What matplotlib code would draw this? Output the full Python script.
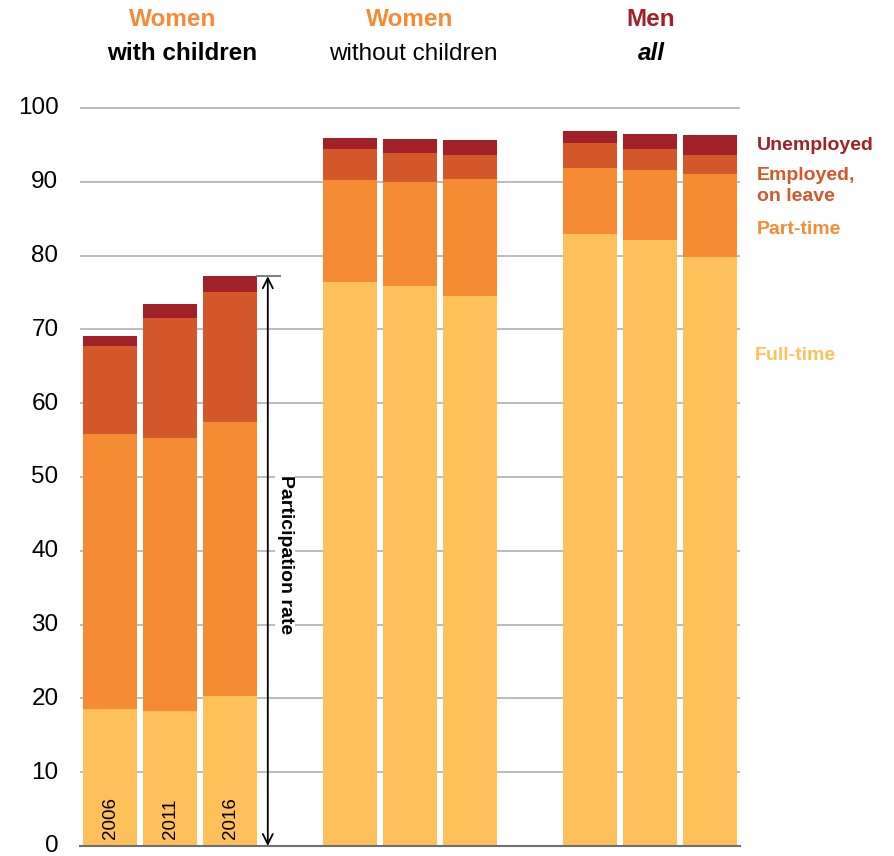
import matplotlib
matplotlib.use("Agg")
import matplotlib.pyplot as plt
import matplotlib.transforms as mtransforms

plt.rcParams['font.family'] = ['Liberation Sans', 'DejaVu Sans']

years = ["2006", "2011", "2016"]
groups = ["with children", "without children", "all"]
full_time = [18.6, 18.3, 20.3, 76.4, 75.9, 74.5, 82.9, 82.1, 79.8]
part_time = [37.2, 37.0, 37.2, 13.9, 14.1, 15.9, 9.0, 9.5, 11.3]
on_leave = [11.9, 16.3, 17.6, 4.1, 3.9, 3.2, 3.4, 2.9, 2.5]
unemployed = [1.4, 1.8, 2.1, 1.6, 1.9, 2.1, 1.6, 2.0, 2.7]
positions = [0, 1, 2, 4, 5, 6, 8, 9, 10]

c_ft = "#FEC05A"
c_pt = "#F58B33"
c_lv = "#D4582A"
c_un = "#A22028"

fig = plt.figure(figsize=(8.94, 8.56), dpi=100)
ax = fig.add_axes([80/894, 10/856, 660/894, (846-100.6)/856])

series = [(full_time, c_ft), (part_time, c_pt), (on_leave, c_lv), (unemployed, c_un)]
bottom = [0.0]*len(positions)
for vals, col in series:
    ax.bar(positions, vals, width=0.9, bottom=bottom, color=col, edgecolor='none', zorder=2)
    bottom = [b + v for b, v in zip(bottom, vals)]

ax.set_xlim(-0.5, 10.5)
ax.set_ylim(0, 101)
ax.set_yticks(range(0, 101, 10))
ax.tick_params(axis='y', length=0, pad=15.5, labelsize=17.5)
ax.set_xticks([])
ax.yaxis.grid(True, color="#b0b0b0", linewidth=1.2, zorder=0)
ax.set_axisbelow(True)
for s in ['top', 'right', 'left']:
    ax.spines[s].set_visible(False)
ax.spines['bottom'].set_color('#707070')
ax.spines['bottom'].set_linewidth(1.5)
ax.spines['bottom'].set_zorder(3)

# lift tick labels slightly as in the reference
offset = mtransforms.ScaledTranslation(0, 1.5/72, fig.dpi_scale_trans)
for lbl in ax.get_yticklabels():
    lbl.set_transform(lbl.get_transform() + offset)

# year labels inside first group
for i, y in enumerate(years):
    ax.text(positions[i], 1.0, y, rotation=90, ha='center', va='bottom', fontsize=13.5, zorder=4)

# participation rate arrow
top = bottom[2]
ax.plot([2.45, 2.83], [top, top], color='#808080', lw=1.5, zorder=3, clip_on=False)
ax.annotate('', xy=(2.63, 0), xytext=(2.63, top),
            arrowprops=dict(arrowstyle='<->', color='black', lw=1.3, mutation_scale=18,
                            shrinkA=0, shrinkB=0), zorder=4)
ax.text(2.92, 39.5, "Participation rate", rotation=-90, ha='center', va='center',
        fontsize=14, fontweight='bold', zorder=4,
        bbox=dict(facecolor='white', edgecolor='none', pad=1))

# headers
top_x = [173, 410, 651]
sub_x = [182, 413, 651]
tops = ["Women", "Women", "Men"]
top_cols = [c_pt, c_pt, c_un]
styles = [dict(fontweight='bold'), dict(), dict(fontweight='bold', fontstyle='italic')]
for xt, xs, t, c, g, st in zip(top_x, sub_x, tops, top_cols, groups, styles):
    fig.text(xt/894, 1 - 19/856, t, color=c, fontsize=17.5, fontweight='bold', ha='center', va='center')
    fig.text(xs/894, 1 - 54/856, g, color='black', fontsize=17.5, ha='center', va='center', **st)

# series labels
fig.text(757/894, 1 - 146/856, "Unemployed", color=c_un, fontsize=14, fontweight='bold', va='center')
fig.text(757/894, 1 - 186/856, "Employed,\non leave", color=c_lv, fontsize=14, fontweight='bold',
         va='center', linespacing=1.35)
fig.text(757/894, 1 - 230/856, "Part-time", color=c_pt, fontsize=14, fontweight='bold', va='center')
fig.text(755/894, 1 - 356/856, "Full-time", color=c_ft, fontsize=14, fontweight='bold', va='center')

fig.savefig("out.png", dpi=100)
